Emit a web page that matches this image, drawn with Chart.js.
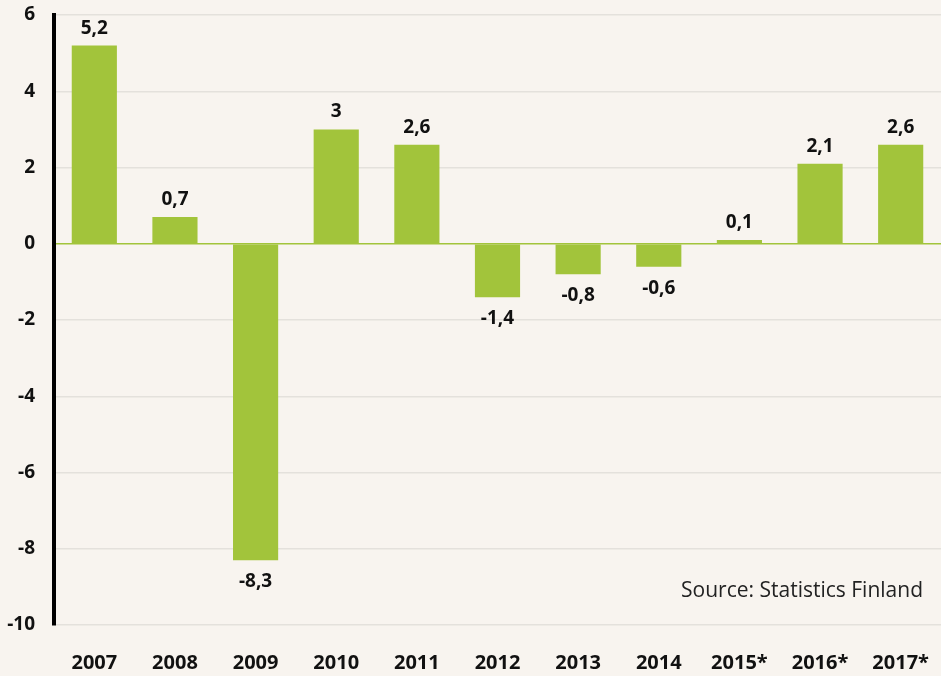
<!DOCTYPE html>
<html>
<head>
<meta charset="utf-8">
<script src="https://cdn.jsdelivr.net/npm/chart.js@4/dist/chart.umd.min.js"></script>
<style>
  html, body { margin: 0; padding: 0; background: #f8f4ef; }
  #wrap { width: 941px; height: 676px; position: relative; }
</style>
</head>
<body>
<div id="wrap"><canvas id="gdpChart"></canvas></div>
<script>
const years = ['2007', '2008', '2009', '2010', '2011', '2012', '2013', '2014', '2015*', '2016*', '2017*'];
const growth = [5.2, 0.7, -8.3, 3, 2.6, -1.4, -0.8, -0.6, 0.1, 2.1, 2.6];
const yTicks = [6, 4, 2, 0, -2, -4, -6, -8, -10];
const sourceText = 'Source: Statistics Finland';

const fontFamily = '"Open Sans", Lato, sans-serif';
const barColor = '#a2c43b';

// value labels above / below each bar
const valueLabels = {
  id: 'valueLabels',
  afterDatasetsDraw(chart) {
    const ctx = chart.ctx;
    const meta = chart.getDatasetMeta(0);
    ctx.save();
    ctx.font = 'bold 19px ' + fontFamily;
    ctx.fillStyle = '#111';
    ctx.textAlign = 'center';
    ctx.textBaseline = 'alphabetic';
    meta.data.forEach((bar, i) => {
      const v = growth[i];
      const txt = String(v).replace('.', ',');
      if (v >= 0) {
        ctx.fillText(txt, bar.x, bar.y - 12);
      } else {
        ctx.fillText(txt, bar.x, bar.y + 27);
      }
    });
    ctx.restore();
  }
};

const sourceNote = {
  id: 'sourceNote',
  afterDraw(chart) {
    const ctx = chart.ctx;
    const y = chart.scales.y;
    ctx.save();
    ctx.font = '21px ' + fontFamily;
    ctx.fillStyle = '#222';
    ctx.textAlign = 'right';
    ctx.textBaseline = 'middle';
    ctx.fillText(sourceText, 923, y.getPixelForValue(-9.1));
    ctx.restore();
  }
};

new Chart(document.getElementById('gdpChart'), {
  type: 'bar',
  data: {
    labels: years,
    datasets: [{
      data: growth,
      backgroundColor: barColor,
      borderWidth: 0,
      barPercentage: 0.56,
      categoryPercentage: 1
    }]
  },
  options: {
    responsive: true,
    maintainAspectRatio: false,
    animation: false,
    layout: { padding: { top: 15, right: 0, left: 0, bottom: 0 } },
    plugins: {
      legend: { display: false },
      tooltip: { enabled: false }
    },
    scales: {
      x: {
        grid: { display: false },
        border: { display: false },
        ticks: {
          color: '#111',
          font: { family: fontFamily, size: 20, weight: 'bold' },
          padding: 18,
          maxRotation: 0
        },
        afterFit(scale) {
          scale.height = 51;
          scale.paddingLeft = 0;
          scale.paddingRight = 0;
        }
      },
      y: {
        min: -10,
        max: 6,
        afterBuildTicks(scale) {
          scale.ticks = yTicks.map(v => ({ value: v }));
        },
        afterFit(scale) {
          scale.width = 54;
          scale.paddingTop = 0;
          scale.paddingBottom = 0;
        },
        border: { display: true, color: '#000', width: 4 },
        grid: {
          drawTicks: false,
          lineWidth: 1.5,
          color: c => (c.tick && c.tick.value === 0) ? barColor : '#e4e1dc'
        },
        ticks: {
          color: '#111',
          padding: 19,
          font: { family: fontFamily, size: 19, weight: 'bold' }
        }
      }
    }
  },
  plugins: [valueLabels, sourceNote]
});
</script>
</body>
</html>
